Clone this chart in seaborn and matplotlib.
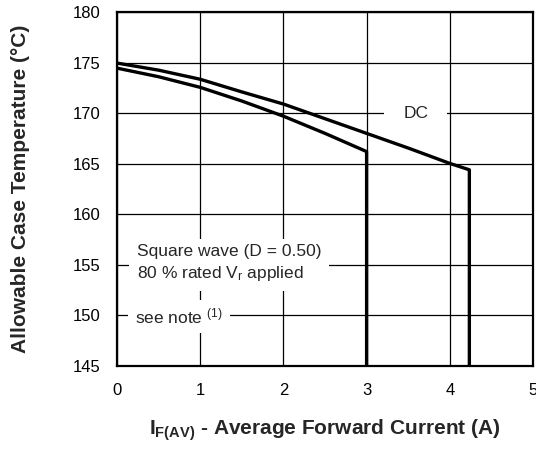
import pandas as pd
import matplotlib
matplotlib.use("Agg")
import matplotlib.pyplot as plt
import seaborn as sns

sns.set_style("white")
plt.rcParams.update({
    "font.family": ["Liberation Sans", "DejaVu Sans"],
    "mathtext.fontset": "custom",
    "mathtext.rm": "Liberation Sans",
    "mathtext.it": "Liberation Sans:italic",
    "mathtext.bf": "Liberation Sans:bold",
    "font.size": 12.5,
    "axes.axisbelow": True,
})

# DC curve (drops vertically at its end)
dc_current = [0, 0.5, 1, 1.5, 2, 2.5, 3, 3.5, 4, 4.235, 4.235]
dc_temp = [174.95, 174.25, 173.35, 172.1, 170.9, 169.45, 168.0, 166.55, 165.03, 164.4, 145.0]

# Square wave (D = 0.50) curve
sq_current = [0, 0.5, 1, 1.5, 2, 2.5, 3, 3]
sq_temp = [174.45, 173.6, 172.55, 171.2, 169.7, 168.0, 166.2, 145.0]

x_ticks = [0, 1, 2, 3, 4, 5]
y_ticks = [145, 150, 155, 160, 165, 170, 175, 180]

dc = pd.DataFrame({"current": dc_current, "temp": dc_temp})
sq = pd.DataFrame({"current": sq_current, "temp": sq_temp})

fig = plt.figure(figsize=(5.36, 4.49), dpi=100)
ax = fig.add_axes([117 / 536, 1 - 366 / 449, 416 / 536, 354 / 449])

sns.lineplot(data=dc, x="current", y="temp", sort=False, estimator=None,
             color="black", linewidth=2.4, ax=ax, zorder=5)
sns.lineplot(data=sq, x="current", y="temp", sort=False, estimator=None,
             color="black", linewidth=2.4, ax=ax, zorder=5)

ax.set_xlim(0, 5)
ax.set_ylim(145, 180)
ax.set_xticks(x_ticks)
ax.set_yticks(y_ticks)
ax.grid(True, color="black", linewidth=0.9)
for s in ax.spines.values():
    s.set_color("black")
    s.set_linewidth(1.6)
ax.tick_params(length=0, labelsize=12, colors="black")
ax.tick_params(axis="x", pad=12)
ax.tick_params(axis="y", pad=12)

ax.set_xlabel(r"$\mathbf{I_{F(AV)}}$ - Average Forward Current (A)",
              fontsize=15, fontweight="bold", labelpad=14)
ax.set_ylabel("Allowable Case Temperature (°C)",
              fontsize=15, fontweight="bold", labelpad=31)

ax.text(3.59, 170, "DC", ha="center", va="center", fontsize=12.5, zorder=3,
        bbox=dict(boxstyle="square,pad=1.1", fc="white", ec="none"))
ax.text(0.24, 155.1, "Square wave (D = 0.50)\n80 % rated V$_\\mathregular{r}$ applied",
        ha="left", va="center", fontsize=12.5, linespacing=1.35, zorder=3,
        bbox=dict(boxstyle="square,pad=0.45", fc="white", ec="none"))
ax.text(0.22, 149.9, "see note $^{(1)}$", ha="left", va="center", fontsize=12.5,
        zorder=3, bbox=dict(boxstyle="square,pad=0.4", fc="white", ec="none"))

fig.savefig("out.png", dpi=100)
